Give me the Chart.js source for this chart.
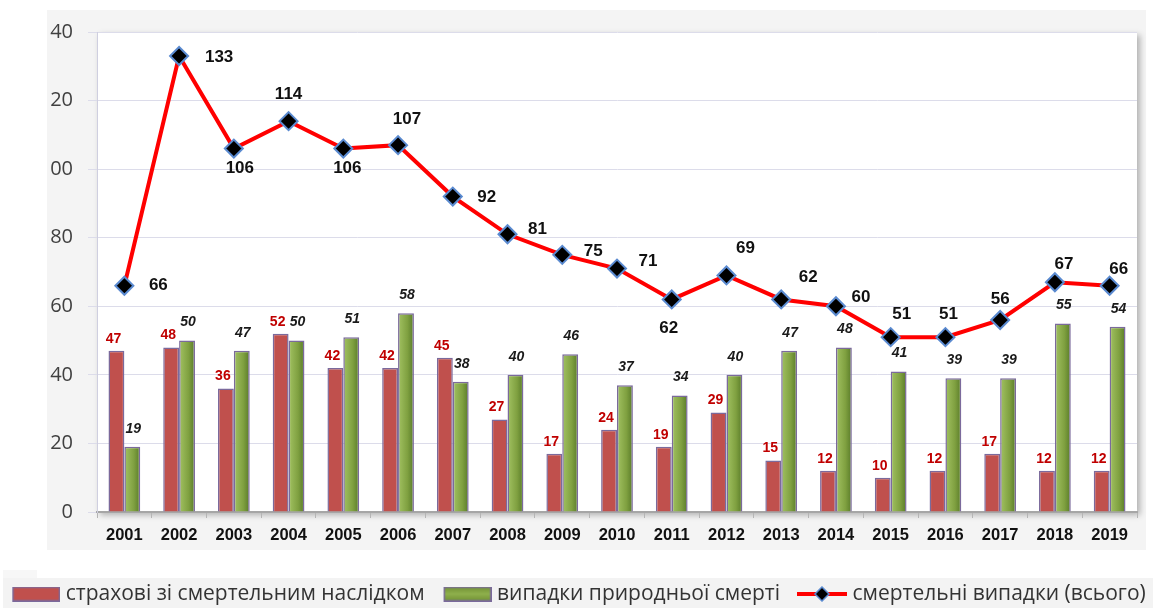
<!DOCTYPE html>
<html>
<head>
<meta charset="utf-8">
<script src="https://cdn.jsdelivr.net/npm/chart.js@4.4.0/dist/chart.umd.min.js"></script>
<style>
  html, body { margin: 0; padding: 0; background: #ffffff; }
  #wrap { position: relative; width: 1153px; height: 608px; }
  canvas { display: block; }
</style>
</head>
<body>
<div id="wrap"><canvas id="c" width="1153" height="608"></canvas></div>
<script>
// ---- data ----
const years = ['2001','2002','2003','2004','2005','2006','2007','2008','2009','2010','2011','2012','2013','2014','2015','2016','2017','2018','2019'];
const insuredFatal = [47,48,36,52,42,42,45,27,17,24,19,29,15,12,10,12,17,12,12];
const naturalDeath = [19,50,47,50,51,58,38,40,46,37,34,40,47,48,41,39,39,55,54];
const totalFatal = [66,133,106,114,106,107,92,81,75,71,62,69,62,60,51,51,56,67,66];
const yMin = 0, yMax = 140, yStep = 20;
const seriesNames = ['страхові зі смертельним наслідком', 'випадки природньої смерті', 'смертельні випадки (всього)'];

// ---- label placement (style) for the total line ----
const lineLabelOffsets = [
  [34,0],[40,1],[6,20],[0,-27],[4,20],[9,-26],[34,1],[30,-5],[31,-4],[31,-7],
  [-3,29],[19,-27],[27,-22],[25,-9],[11,-23],[3,-23],[0,-21],[9,-18],[9,-16]
];

const RED = '#c0504d';
const BAR_BORDER = '#7b6a9c';

function swatchRect(kind) {
  const cv = document.createElement('canvas');
  cv.width = 58; cv.height = 15;
  const c = cv.getContext('2d');
  if (kind === 'red') {
    c.fillStyle = RED;
  } else {
    const g = c.createLinearGradient(0, 0, 0, 15);
    g.addColorStop(0, '#6f8f33'); g.addColorStop(0.5, '#8fb04c'); g.addColorStop(1, '#6f8f33');
    c.fillStyle = g;
  }
  c.fillRect(10, 0, 48, 15);
  c.strokeStyle = BAR_BORDER; c.lineWidth = 1.5;
  c.strokeRect(10.75, 0.75, 46.5, 13.5);
  return cv;
}
function swatchLine() {
  const cv = document.createElement('canvas');
  cv.width = 58; cv.height = 16;
  const c = cv.getContext('2d');
  c.strokeStyle = '#ff0000'; c.lineWidth = 4;
  c.beginPath(); c.moveTo(8, 8); c.lineTo(58, 8); c.stroke();
  c.beginPath(); c.moveTo(33, 1); c.lineTo(40, 8); c.lineTo(33, 15); c.lineTo(26, 8); c.closePath();
  c.fillStyle = '#000'; c.fill();
  c.strokeStyle = '#5a8ad0'; c.lineWidth = 1.5; c.stroke();
  return cv;
}
const legendIcons = [swatchRect('red'), swatchRect('green'), swatchLine()];

const bgPlugin = {
  id: 'bg',
  beforeDraw(chart) {
    const ctx = chart.ctx, a = chart.chartArea;
    ctx.save();
    ctx.fillStyle = '#ffffff'; ctx.fillRect(0, 0, chart.width, chart.height);
    ctx.fillStyle = '#f4f4f4'; ctx.fillRect(47, 10, 1099, 540);
    ctx.fillStyle = '#f3f3f3'; ctx.fillRect(3, 578, 1150, 30);
    ctx.fillStyle = '#f7f7f7'; ctx.fillRect(3, 570, 34, 8);
    ctx.shadowColor = 'rgba(0,0,0,0.28)'; ctx.shadowBlur = 6; ctx.shadowOffsetX = 3; ctx.shadowOffsetY = 3;
    ctx.fillStyle = '#ffffff'; ctx.fillRect(a.left, a.top, a.right - a.left, a.bottom - a.top);
    ctx.restore();
  },
  afterDraw(chart) {
    const ctx = chart.ctx;
    ctx.save();
    ctx.fillStyle = '#ffffff'; ctx.fillRect(0, 0, 46.5, 566);
    ctx.restore();
  }
};

const labelPlugin = {
  id: 'valueLabels',
  afterDatasetsDraw(chart) {
    const ctx = chart.ctx;
    ctx.save();
    ctx.textAlign = 'center'; ctx.textBaseline = 'middle';
    chart.getDatasetMeta(0).data.forEach((bar, i) => {
      ctx.font = 'bold 14px "Liberation Sans", Arial, sans-serif';
      ctx.fillStyle = '#c00000';
      ctx.fillText(String(insuredFatal[i]), bar.x - 3, bar.y - 12);
    });
    chart.getDatasetMeta(1).data.forEach((bar, i) => {
      ctx.font = 'italic bold 14px "Liberation Sans", Arial, sans-serif';
      ctx.fillStyle = '#1a1a1a';
      ctx.fillText(String(naturalDeath[i]), bar.x + 1, bar.y - 18);
    });
    chart.getDatasetMeta(2).data.forEach((pt, i) => {
      const o = lineLabelOffsets[i];
      ctx.font = 'bold 17px "Liberation Sans", Arial, sans-serif';
      ctx.fillStyle = '#111111';
      ctx.fillText(String(totalFatal[i]), pt.x + o[0], pt.y + o[1]);
    });
    ctx.restore();
  }
};

function greenFill(ctx) {
  const chart = ctx.chart;
  if (!chart.chartArea || ctx.type !== 'data') return '#86a748';
  const xs = chart.scales.x;
  const cx = xs.getPixelForValue(ctx.dataIndex);
  const bw = xs.width / years.length * 0.58 / 2;
  const g = chart.ctx.createLinearGradient(cx, 0, cx + bw, 0);
  g.addColorStop(0, '#a2c262');
  g.addColorStop(0.6, '#7fa040');
  g.addColorStop(1, '#587a28');
  return g;
}

new Chart(document.getElementById('c'), {
  data: {
    labels: years,
    datasets: [
      {
        type: 'bar', label: seriesNames[0], data: insuredFatal,
        backgroundColor: RED, borderColor: BAR_BORDER, borderWidth: 1.5,
        categoryPercentage: 0.58, barPercentage: 1, order: 1
      },
      {
        type: 'bar', label: seriesNames[1], data: naturalDeath,
        backgroundColor: greenFill, borderColor: BAR_BORDER, borderWidth: 1.5,
        categoryPercentage: 0.58, barPercentage: 1, order: 2
      },
      {
        type: 'line', label: seriesNames[2], data: totalFatal,
        borderColor: '#ff0000', borderWidth: 4, tension: 0,
        pointStyle: 'rectRot', pointRadius: 9, pointHoverRadius: 9,
        pointBackgroundColor: '#000000', pointBorderColor: '#5a8ad0', pointBorderWidth: 2,
        order: 0
      }
    ]
  },
  options: {
    responsive: false,
    animation: false,
    events: [],
    layout: { padding: { top: 32, left: -20, right: -20, bottom: -6.5 } },
    scales: {
      x: {
        offset: true,
        grid: { display: true, drawOnChartArea: false, drawTicks: true, tickLength: 6, color: '#b5b5b5', offset: true },
        border: { display: true, color: '#a6a6a6', width: 2 },
        ticks: { font: { family: '"Liberation Sans", Arial, sans-serif', size: 16.5, weight: 'bold' }, color: '#111111', padding: 8, maxRotation: 0, autoSkip: false },
        afterFit: s => { s.height = 57.5; }
      },
      y: {
        min: yMin, max: yMax,
        ticks: { stepSize: yStep, font: { family: '"Open Sans", sans-serif', size: 20 }, color: '#404040', padding: 15 },
        grid: { color: '#dcdcea', lineWidth: 1, tickLength: 9 },
        border: { color: '#cfcfe0', width: 1 },
        afterFit: s => { s.width = 117; }
      },
      y2: {
        position: 'right', display: true,
        grid: { display: false }, border: { display: false }, ticks: { display: false },
        afterFit: s => { s.width = 36; }
      }
    },
    plugins: {
      tooltip: { enabled: false },
      legend: {
        display: true, position: 'bottom', align: 'center',
        labels: {
          usePointStyle: true, pointStyleWidth: 48, boxHeight: 21, padding: 14,
          font: { family: '"Open Sans", sans-serif', size: 21 }, color: '#333333',
          generateLabels: () => seriesNames.map((t, i) => ({
            text: t, pointStyle: legendIcons[i], fillStyle: 'transparent', strokeStyle: 'transparent',
            lineWidth: 0, hidden: false, datasetIndex: i, fontColor: '#333333'
          }))
        }
      }
    }
  },
  plugins: [bgPlugin, labelPlugin]
});
</script>
</body>
</html>
